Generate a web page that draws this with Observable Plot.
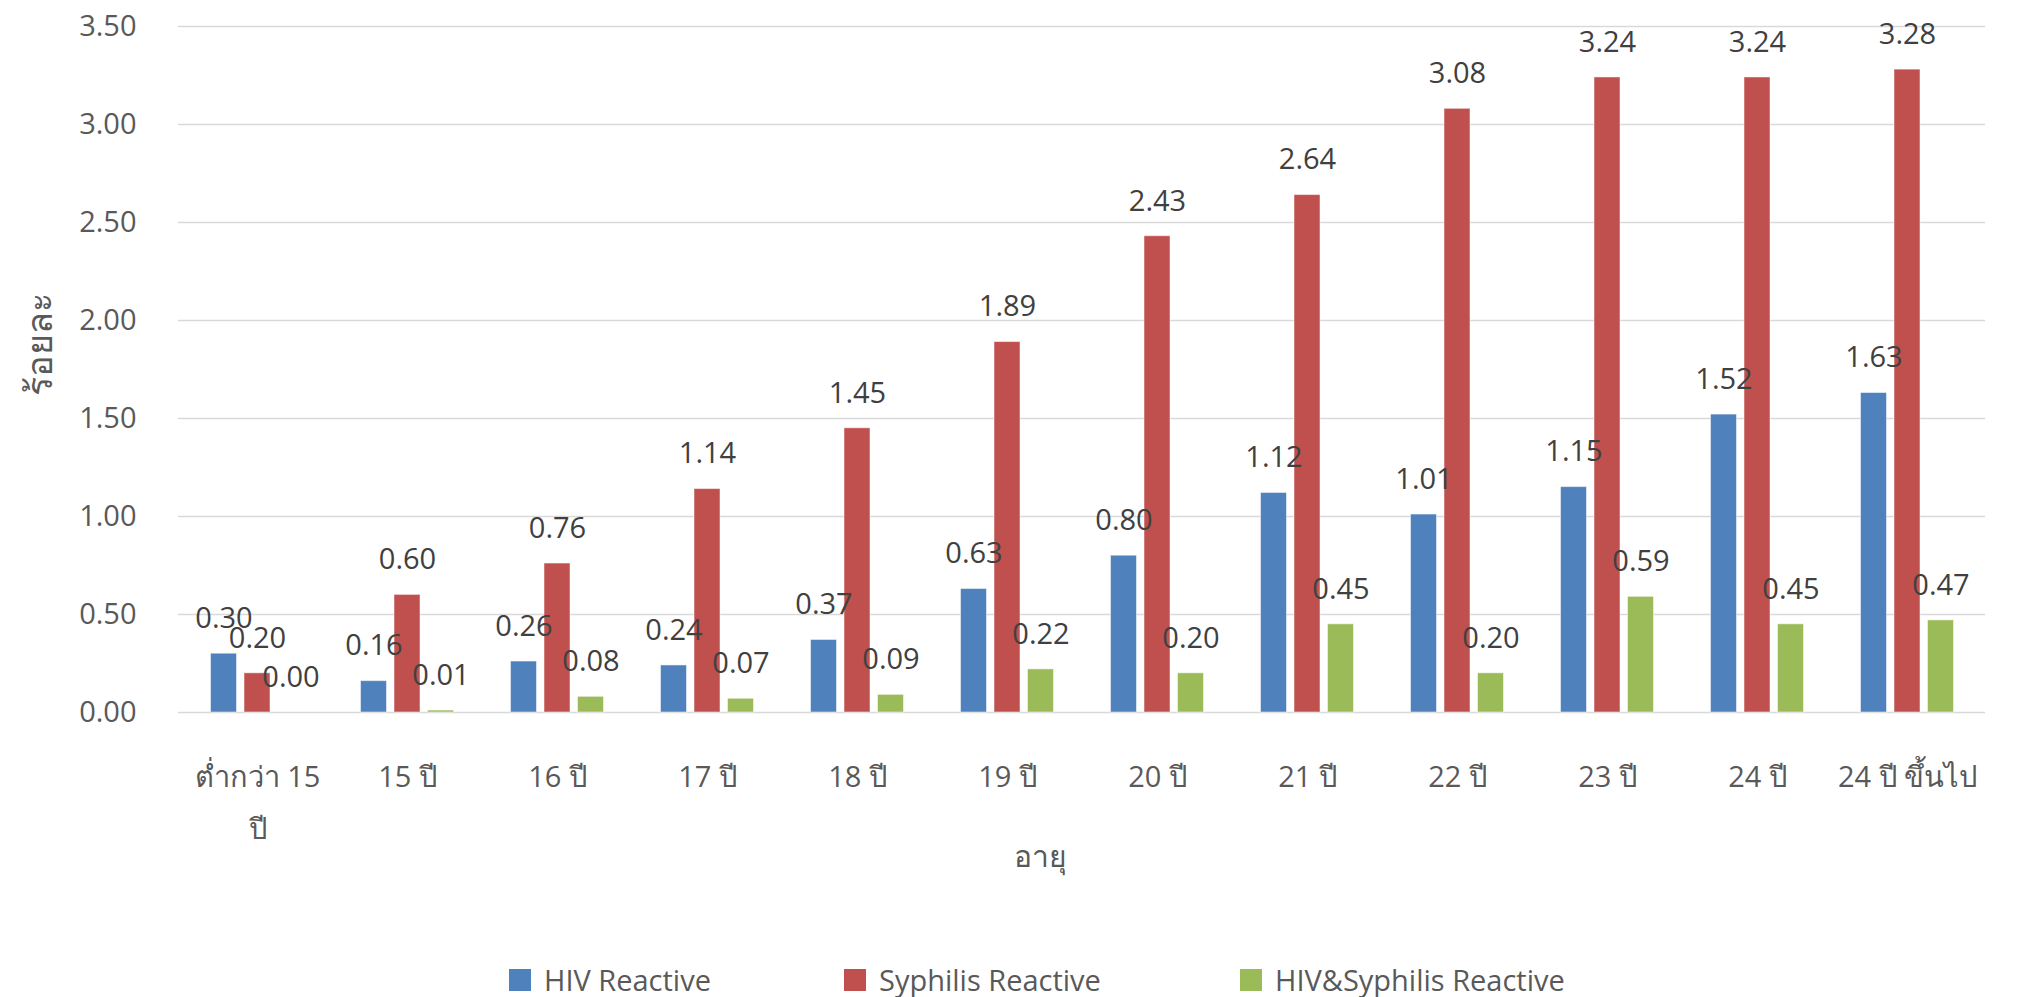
<!DOCTYPE html>
<html>
<head>
<meta charset="utf-8">
<script src="https://cdn.jsdelivr.net/npm/d3@7"></script>
<script src="https://cdn.jsdelivr.net/npm/@observablehq/plot@0.6"></script>
<style>
  html, body { margin: 0; padding: 0; background: #fff; overflow: hidden; }
  #chart { position: relative; width: 2025px; height: 997px; font-family: "Open Sans", "Noto Sans", sans-serif; }
  .legend-item { position: absolute; top: 960px; display: flex; align-items: center; font-size: 29px; color: #595959; white-space: nowrap; }
  .legend-item .sw { width: 22px; height: 22px; margin-right: 13px; }
</style>
</head>
<body>
<div id="chart"></div>
<script>
const categories = ["ต่ำกว่า 15 ปี", "15 ปี", "16 ปี", "17 ปี", "18 ปี", "19 ปี", "20 ปี", "21 ปี", "22 ปี", "23 ปี", "24 ปี", "24 ปี ขึ้นไป"];
const seriesNames = ["HIV Reactive", "Syphilis Reactive", "HIV&Syphilis Reactive"];
const hiv = [0.30, 0.16, 0.26, 0.24, 0.37, 0.63, 0.80, 1.12, 1.01, 1.15, 1.52, 1.63];
const syphilis = [0.20, 0.60, 0.76, 1.14, 1.45, 1.89, 2.43, 2.64, 3.08, 3.24, 3.24, 3.28];
const both = [0.00, 0.01, 0.08, 0.07, 0.09, 0.22, 0.20, 0.45, 0.20, 0.59, 0.45, 0.47];
const yTicks = [0, 0.5, 1.0, 1.5, 2.0, 2.5, 3.0, 3.5];
const colors = ["#4F81BD", "#C0504D", "#9BBB59"];
const yTitle = "ร้อยละ";
const xTitle = "อายุ";

const seriesValues = [hiv, syphilis, both];
const offsets = [-33.5, 0, 33.5];

const W = 2025, H = 900;
const mL = 178, mR = 40, mT = 26, mB = H - 712;
const step = (W - mL - mR) / categories.length;
const barW = 26;
const pin = 1 - barW / step;

const marks = [
  Plot.gridY(yTicks, {stroke: "#d9d9d9", strokeOpacity: 1, strokeWidth: 1.4}),
  Plot.axisY(yTicks, {tickSize: 0, tickPadding: 42, fontSize: 29, color: "#595959", tickFormat: d3.format(".2f"), label: null}),
  Plot.axisX({tickSize: 0, tickPadding: 37, fontSize: 29, color: "#595959", lineHeight: 1.8, label: null,
    tickFormat: d => d === categories[0] ? "ต่ำกว่า 15\nปี" : d}),
  Plot.text([yTitle], {frameAnchor: "left", dx: -138, dy: 26, rotate: -90, fontSize: 36, fontWeight: 400, fill: "#595959"}),
  Plot.text([xTitle], {frameAnchor: "bottom", dx: -42, dy: 154, fontSize: 30, fill: "#595959"})
];

seriesValues.forEach((vals, s) => {
  const rows = categories.map((c, i) => ({cat: c, v: vals[i]}));
  marks.push(Plot.barY(rows, {x: "cat", y: "v", fill: colors[s], dx: offsets[s], stroke: "#ffffff", strokeOpacity: 0.5, strokeWidth: 1}));
});
seriesValues.forEach((vals, s) => {
  const rows = categories.map((c, i) => ({cat: c, v: vals[i]}));
  marks.push(Plot.text(rows, {x: "cat", y: "v", text: d => d3.format(".2f")(d.v), dx: offsets[s], dy: -35, fontSize: 29, fill: "#404040"}));
});

const chart = Plot.plot({
  width: W,
  height: H,
  marginLeft: mL,
  marginRight: mR,
  marginTop: mT,
  marginBottom: mB,
  style: {fontFamily: "'Open Sans', 'Noto Sans', sans-serif", background: "#fff"},
  x: {domain: categories, paddingInner: pin, paddingOuter: pin / 2, align: 0.5},
  y: {domain: [0, 3.5]},
  marks
});

const root = document.getElementById("chart");
root.appendChild(chart);

const legendX = [509, 844, 1240];
seriesNames.forEach((name, i) => {
  const item = document.createElement("div");
  item.className = "legend-item";
  item.style.left = legendX[i] + "px";
  const sw = document.createElement("span");
  sw.className = "sw";
  sw.style.background = colors[i];
  const label = document.createElement("span");
  label.textContent = name;
  item.appendChild(sw);
  item.appendChild(label);
  root.appendChild(item);
});
</script>
</body>
</html>
